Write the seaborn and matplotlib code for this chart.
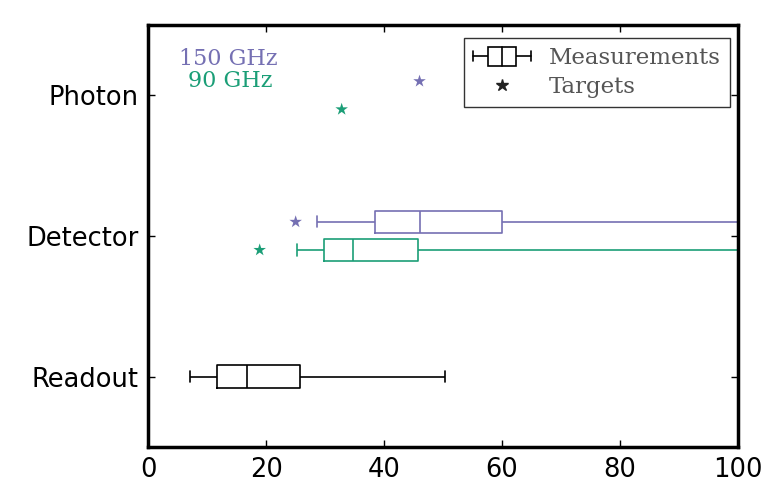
import numpy as np
import pandas as pd
import matplotlib
matplotlib.use("Agg")
import matplotlib.pyplot as plt
import seaborn as sns
from matplotlib.legend_handler import HandlerBase
from matplotlib.lines import Line2D
from matplotlib.patches import Rectangle

# box stats: whisker low, q1, median, q3, whisker high
readout = [7.0, 11.6, 16.8, 25.7, 50.3]
detector_150 = [28.7, 38.5, 46.0, 60.0, 130.0]
detector_90 = [25.2, 29.8, 34.8, 45.7, 125.0]

# target values (stars)
target_detector = {"150 GHz": 25.0, "90 GHz": 18.9}
target_photon = {"150 GHz": 46.0, "90 GHz": 32.8}

categories = ["Readout", "Detector", "Photon"]
colors = {"readout": "black", "150 GHz": "#7570b3", "90 GHz": "#1b9e77"}
offsets = {"readout": 0.0, "150 GHz": 0.1, "90 GHz": -0.1}

rows = []
for v in readout:
    rows.append(("readout", 0 + offsets["readout"], v))
for v in detector_150:
    rows.append(("150 GHz", 1 + offsets["150 GHz"], v))
for v in detector_90:
    rows.append(("90 GHz", 1 + offsets["90 GHz"], v))
df = pd.DataFrame(rows, columns=["band", "pos", "value"])

trows = []
for band in ["150 GHz", "90 GHz"]:
    trows.append((band, 1 + offsets[band], target_detector[band]))
    trows.append((band, 2 + offsets[band], target_photon[band]))
targets = pd.DataFrame(trows, columns=["band", "pos", "value"])


class BoxHandler(HandlerBase):
    def create_artists(self, legend, orig_handle, xdescent, ydescent,
                       width, height, fontsize, trans):
        x0, y0 = -xdescent, -ydescent
        yc = y0 + height / 2
        h = height * 1.2
        w = width
        arts = [
            Line2D([x0, x0 + w], [yc, yc], color="black", lw=1.2),
            Line2D([x0, x0], [yc - h / 4, yc + h / 4], color="black", lw=1.2),
            Line2D([x0 + w, x0 + w], [yc - h / 4, yc + h / 4], color="black", lw=1.2),
            Rectangle((x0 + w * 0.25, yc - h / 2), w * 0.5, h,
                      facecolor="white", edgecolor="black", lw=1.2),
            Line2D([x0 + w * 0.5, x0 + w * 0.5], [yc - h / 2, yc + h / 2],
                   color="black", lw=1.2),
        ]
        for a in arts:
            a.set_transform(trans)
        return arts


sns.set_style("ticks")
fig, ax = plt.subplots(figsize=(7.64, 4.9), dpi=100)
fig.subplots_adjust(left=0.194, right=0.966, top=0.949, bottom=0.088)

sns.boxplot(data=df, x="value", y="pos", hue="band", palette=colors,
            native_scale=True, orient="h", fill=False, dodge=False,
            whis=(0, 100), linewidth=1.2, legend=False, ax=ax)
sns.scatterplot(data=targets, x="value", y="pos", hue="band",
                palette=colors, marker="*", s=90, linewidth=0,
                legend=False, ax=ax)

ax.set_xlim(0, 100)
ax.set_ylim(-0.5, 2.5)
ax.set_yticks([0, 1, 2])
ax.set_yticklabels(categories)
ax.set_xlabel("")
ax.set_ylabel("")
ax.tick_params(direction="in", top=True, right=True, labelsize=18.5,
               length=5, width=1, colors="black")
ax.tick_params(axis="both", pad=7)
for s in ax.spines.values():
    s.set_linewidth(2.5)
    s.set_color("black")

ax.text(13.6, 2.255, "150 GHz", color=colors["150 GHz"], ha="center",
        va="center", fontsize=16, family="DejaVu Serif")
ax.text(13.9, 2.105, "90 GHz", color=colors["90 GHz"], ha="center",
        va="center", fontsize=16, family="DejaVu Serif")

box_handle = Rectangle((0, 0), 1, 1)
star_handle = Line2D([], [], marker="*", color="#222222", ls="", markersize=9)
leg = ax.legend([box_handle, star_handle], ["Measurements", "Targets"],
                handler_map={Rectangle: BoxHandler()},
                loc="upper right", bbox_to_anchor=(0.9864, 0.969),
                borderaxespad=0,
                frameon=True, fancybox=False, edgecolor="black",
                prop={"family": "DejaVu Serif", "size": 16.5},
                labelcolor="#555555", handlelength=2.5, handletextpad=0.8,
                borderpad=0.4, labelspacing=0.3)
leg.get_frame().set_linewidth(1.0)

plt.savefig("out.png", dpi=100)
plt.close()
